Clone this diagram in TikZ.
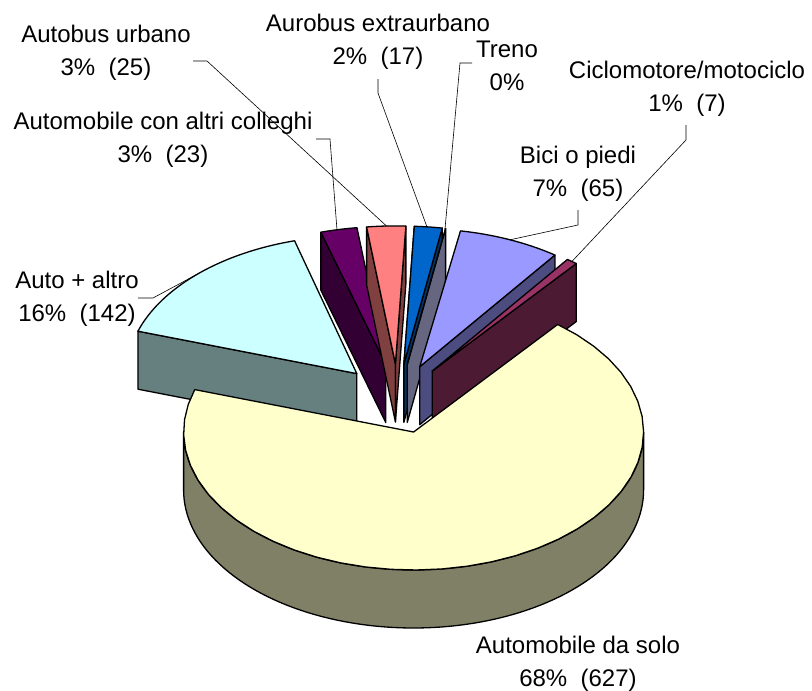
\documentclass[tikz,border=0pt]{standalone}
\usepackage{fontspec}
\setmainfont{Liberation Sans}
\definecolor{cMainT}{HTML}{FFFFCC}\definecolor{cMainW}{HTML}{808066}
\definecolor{cAutoT}{HTML}{CCFFFF}\definecolor{cAutoW}{HTML}{668080}
\definecolor{cPurT}{HTML}{660066}\definecolor{cPurW}{HTML}{330033}
\definecolor{cPinkT}{HTML}{FF8080}\definecolor{cPinkW}{HTML}{804040}
\definecolor{cBlueT}{HTML}{0066CC}\definecolor{cBlueW}{HTML}{003366}
\definecolor{cTrenoW}{HTML}{666680}
\definecolor{cBiciT}{HTML}{9999FF}\definecolor{cBiciW}{HTML}{4C4C80}
\definecolor{cCicT}{HTML}{993366}\definecolor{cCicW}{HTML}{4D1A33}
% top face: apex x, apex y, start angle, end angle, colour
\newcommand\mytopface[5]{%
  \filldraw[face, fill=#5] (#1,#2) -- plot[domain=#3:#4, samples=40] ({#1+230*cos(\x)},{#2+138*sin(\x)}) -- cycle;}
% radial wall: apex x, apex y, angle, colour
\newcommand\myradwall[4]{%
  \filldraw[face, fill=#4] (#1,#2) -- ({#1+230*cos(#3)},{#2+138*sin(#3)}) -- ++(0,58) -- (#1,#2+58) -- cycle;}
\begin{document}
\begin{tikzpicture}[x=1pt,y=-1pt,
  face/.style={draw=black, line width=1.3pt, line join=round},
  lead/.style={draw=black, line width=0.6pt},
  lbl/.style={align=center, inner sep=0pt, font=\fontsize{24}{33}\selectfont}]
\useasboundingbox (0,0) rectangle (812,691);

% Auto + altro
\myradwall{356.8}{373.6}{197.9}{cAutoW}
\mytopface{356.8}{373.6}{197.9}{254.3}{cAutoT}
% Automobile con altri colleghi
\myradwall{385.8}{364.6}{253.6}{cPurW}
\mytopface{385.8}{364.6}{253.6}{262.8}{cPurT}
% Autobus urbano
\myradwall{395.43}{363.9}{262.8}{cPinkW}
\myradwall{395.43}{363.9}{272.6}{cPinkW}
\mytopface{395.43}{363.9}{262.8}{272.6}{cPinkT}
% Aurobus extraurbano
\myradwall{403.87}{364.14}{272.6}{cBlueW}
\myradwall{403.87}{364.14}{279.6}{cBlueW}
\mytopface{403.87}{364.14}{272.6}{279.6}{cBlueT}
% Treno
\myradwall{407.27}{364.45}{279.6}{cTrenoW}
\draw[face] (407.27,364.45) -- ({407.27+230*cos(279.6)},{364.45+138*sin(279.6)});
% Bici o piedi
\myradwall{419.75}{366.7}{306}{cBiciW}
\mytopface{419.75}{366.7}{280.2}{306}{cBiciT}
% Ciclomotore/motociclo
\myradwall{432.2}{371.1}{308.8}{cCicW}
\mytopface{432.2}{371.1}{306}{308.8}{cCicT}
% Automobile da solo
\filldraw[face, fill=cMainW] plot[domain=0:180, samples=90] ({413.6+230*cos(\x)},{432+138*sin(\x)})
  -- plot[domain=180:0, samples=90] ({413.6+230*cos(\x)},{490+138*sin(\x)}) -- cycle;
\mytopface{413.6}{432}{-51.2}{197.9}{cMainT}

% labels
\node[lbl] (lUrb) at (106,52.5) {Autobus urbano\\3\%\ \ (25)};
\node[lbl] (lCol) at (163,140) {Automobile con altri colleghi\\3\%\ \ (23)};
\node[lbl] (lExt) at (378,41.5) {Aurobus extraurbano\\2\%\ \ (17)};
\node[lbl] (lTre) at (507,66) {Treno\\0\%};
\node[lbl] (lCic) at (687,89) {Ciclomotore/motociclo\\1\%\ \ (7)};
\node[lbl] (lBic) at (578,174) {Bici o piedi\\7\%\ \ (65)};
\node[lbl] (lAut) at (77,298.5) {Auto + altro\\16\%\ \ (142)};
\node[lbl] (lMai) at (578,664) {Automobile da solo\\68\%\ \ (627)};

% leader lines
\coordinate (sUrb) at (193,61);   \coordinate (pUrb) at (386.5,226);
\coordinate (sCol) at (316,139);  \coordinate (pCol) at (337,230);
\coordinate (sExt) at (378,79);   \coordinate (pExt) at (427,227);
\coordinate (sTre) at (472,63);   \coordinate (pTre) at (445,229);
\coordinate (sBic) at (578,210);  \coordinate (pBic) at (510,239.8);
\coordinate (sCic) at (686,125);  \coordinate (pCic) at (571.9,261.5);
\coordinate (sAut) at (138,298);  \coordinate (pAut) at (197.3,274.2);
\draw[lead] (sUrb) -- ++(14,0) -- (pUrb);
\draw[lead] (sCol) -- ++(14,0) -- (pCol);
\draw[lead] (sExt) -- ++(0,14) -- (pExt);
\draw[lead] (sTre) -- ++(-12,0) -- (pTre);
\draw[lead] (sBic) -- ++(0,15) -- (pBic);
\draw[lead] (sCic) -- ++(0,15) -- (pCic);
\draw[lead] (sAut) -- ++(15,0) -- (pAut);
\end{tikzpicture}
\end{document}
